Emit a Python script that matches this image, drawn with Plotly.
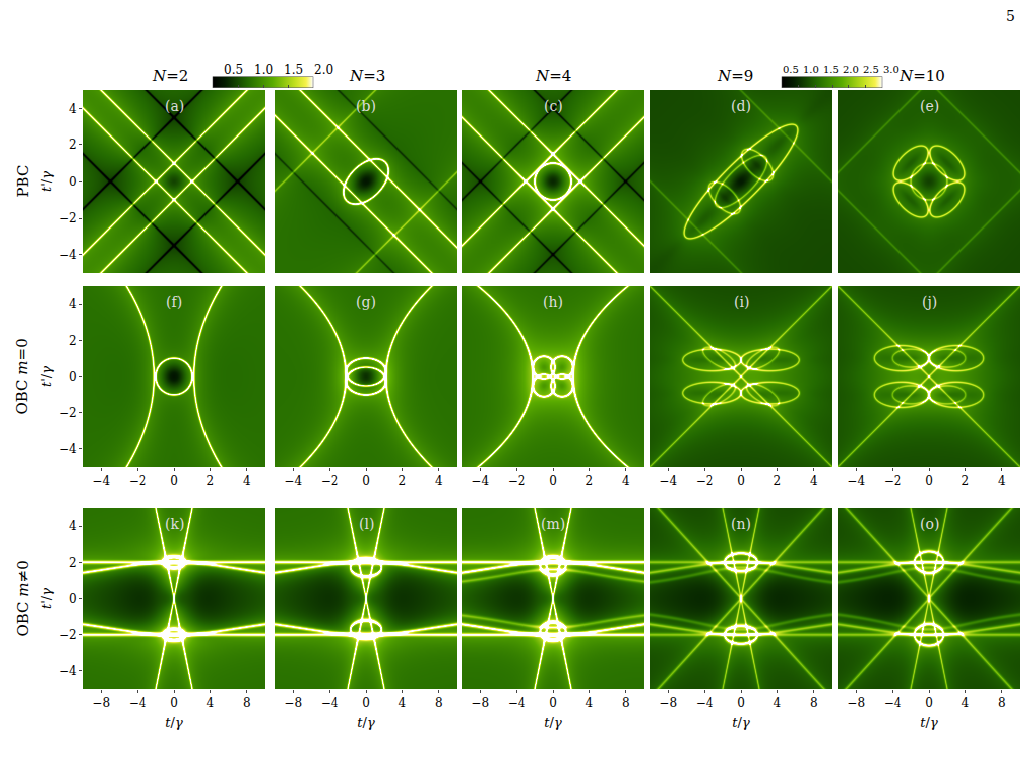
import numpy as np
import plotly.graph_objects as go

# column titles, row labels, panel letters
n_labels = ['2', '3', '4', '9', '10']
row_labels = ['PBC', 'OBC <i>m</i>=0', 'OBC <i>m</i>≠0']
panel_letters = list('abcdefghijklmno')
ticks_y = [-4, -2, 0, 2, 4]
ticks_x_row2 = [-4, -2, 0, 2, 4]
ticks_x_row3 = [-8, -4, 0, 4, 8]
cbar_ticks_left = [0.5, 1.0, 1.5, 2.0]
cbar_ticks_right = [0.5, 1.0, 1.5, 2.0, 2.5, 3.0]

# bright curves per panel: (kind, weight, params...)
curves_a = [('line', 1.0, 1, 1, 1), ('line', 1.0, 1, 1, -1), ('line', 1.0, 1, -1, 1), ('line', 1.0, 1, -1, -1),
            ('line', -0.5, 1, 1, 3.5), ('line', -0.5, 1, 1, -3.5), ('line', -0.5, 1, -1, 3.5), ('line', -0.5, 1, -1, -3.5)]
curves_b = [('line', 1.0, 1, 1, 1.4), ('line', 1.0, 1, 1, -1.4), ('line', 0.5, 1, -1, 4.5), ('line', 0.5, 1, -1, -4.5),
            ('line', -0.3, 1, 1, 3.5), ('line', -0.3, 1, 1, -3.5), ('ell', 1.2, 0, 0, 1.5, 0.9, 45)]
curves_c = [('line', 1.0, 1, 1, 1.5), ('line', 1.0, 1, 1, -1.5), ('line', 1.0, 1, -1, 1.5), ('line', 1.0, 1, -1, -1.5),
            ('line', -0.4, 1, 1, 4), ('line', -0.4, 1, 1, -4), ('line', -0.4, 1, -1, 4), ('line', -0.4, 1, -1, -4),
            ('ell', 1.2, 0, 0, 1.0, 1.0, 0)]
curves_d = [('ell', 1.3, 0, 0, 4.3, 1.0, 45), ('ell', 1.0, 0.9, 0.9, 1.1, 0.55, -45), ('ell', 1.0, -0.9, -0.9, 1.1, 0.55, -45),
            ('ell', 0.9, 0, 0, 1.9, 0.7, 45), ('line', 0.4, 1, 1, 5), ('line', 0.4, 1, 1, -5)]
curves_e = [('ell', 1.2, 1.0, 1.0, 1.2, 0.6, -45), ('ell', 1.2, -1.0, -1.0, 1.2, 0.6, -45),
            ('ell', 1.2, 1.0, -1.0, 1.2, 0.6, 45), ('ell', 1.2, -1.0, 1.0, 1.2, 0.6, 45),
            ('ell', 0.8, 0, 0, 1.0, 1.0, 0), ('line', 0.4, 1, 1, 5.5), ('line', 0.4, 1, -1, 5.5),
            ('line', 0.4, 1, 1, -5.5), ('line', 0.4, 1, -1, -5.5)]
curves_f = [('para', 1.0, 1, 1.1, 0.06), ('para', 1.0, -1, 1.1, 0.06), ('ell', 1.2, 0, 0, 1.0, 1.0, 0)]
curves_g = [('para', 1.0, 1, 1.1, 0.1), ('para', 1.0, -1, 1.1, 0.1), ('ell', 1.2, 0, 0.25, 1.1, 0.75, 0),
            ('ell', 1.2, 0, -0.25, 1.1, 0.75, 0)]
curves_h = [('para', 1.0, 1, 1.1, 0.12), ('para', 1.0, -1, 1.1, 0.12), ('ell', 1.1, 0.5, 0.5, 0.6, 0.6, 0),
            ('ell', 1.1, -0.5, 0.5, 0.6, 0.6, 0), ('ell', 1.1, 0.5, -0.5, 0.6, 0.6, 0), ('ell', 1.1, -0.5, -0.5, 0.6, 0.6, 0)]
curves_i = [('line', 0.9, 1, 1, 0), ('line', 0.9, 1, -1, 0), ('ell', 1.0, 1.6, 0.9, 1.6, 0.6, 0), ('ell', 1.0, -1.6, 0.9, 1.6, 0.6, 0),
            ('ell', 1.0, 1.6, -0.9, 1.6, 0.6, 0), ('ell', 1.0, -1.6, -0.9, 1.6, 0.6, 0), ('ell', 0.7, 1.2, 1.0, 1.0, 0.4, 30),
            ('ell', 0.7, -1.2, 1.0, 1.0, 0.4, -30), ('ell', 0.7, 1.2, -1.0, 1.0, 0.4, -30), ('ell', 0.7, -1.2, -1.0, 1.0, 0.4, 30)]
curves_j = [('line', 0.9, 1, 1, 0), ('line', 0.9, 1, -1, 0), ('ell', 1.0, 1.5, 1.0, 1.5, 0.7, 0), ('ell', 1.0, -1.5, 1.0, 1.5, 0.7, 0),
            ('ell', 1.0, 1.5, -1.0, 1.5, 0.7, 0), ('ell', 1.0, -1.5, -1.0, 1.5, 0.7, 0), ('ell', 0.7, 1.0, 1.0, 1.0, 0.5, 0),
            ('ell', 0.7, -1.0, 1.0, 1.0, 0.5, 0), ('ell', 0.7, 1.0, -1.0, 1.0, 0.5, 0), ('ell', 0.7, -1.0, -1.0, 1.0, 0.5, 0)]
row3_base = [('hl', 0.9, 2.0), ('hl', 0.9, -2.0), ('hour', 1.0, 2.0, 10.0), ('hour', 1.0, -2.0, 10.0),
             ('line', 1.0, 2.5, 1, 0), ('line', 1.0, 2.5, -1, 0)]
curves_k = row3_base + [('ell', 1.2, 0, 2.0, 1.2, 0.3, 0), ('ell', 1.2, 0, -2.0, 1.2, 0.3, 0)]
curves_l = row3_base + [('ell', 1.2, 0, 1.7, 1.7, 0.5, 0), ('ell', 1.2, 0, -1.7, 1.7, 0.5, 0)]
curves_m = row3_base + [('ell', 1.2, 0, 1.8, 1.4, 0.5, 0), ('ell', 1.2, 0, -1.8, 1.4, 0.5, 0),
                        ('hour', 0.5, 1.6, 7.0), ('hour', 0.5, -1.6, 7.0)]
curves_n = row3_base + [('line', 0.9, 0.55, 1, 0), ('line', 0.9, 0.55, -1, 0), ('ell', 1.6, 0, 2.0, 1.8, 0.5, 0),
                        ('ell', 1.6, 0, -2.0, 1.8, 0.5, 0), ('hour', 0.5, 1.7, 6.0), ('hour', 0.5, -1.7, 6.0)]
curves_o = row3_base + [('line', 0.9, 0.55, 1, 0), ('line', 0.9, 0.55, -1, 0), ('ell', 1.6, 0, 2.0, 1.6, 0.6, 0),
                        ('ell', 1.6, 0, -2.0, 1.6, 0.6, 0), ('hour', 0.5, 1.7, 6.0), ('hour', 0.5, -1.7, 6.0)]
panel_curves = [curves_a, curves_b, curves_c, curves_d, curves_e, curves_f, curves_g, curves_h,
                curves_i, curves_j, curves_k, curves_l, curves_m, curves_n, curves_o]

cscale = [[0, '#000000'], [0.12, '#031c00'], [0.35, '#236a00'], [0.6, '#5aab00'],
          [0.82, '#c2e020'], [0.93, '#f6f24a'], [1, '#ffffff']]

# pixel layout (page has an 8px body margin, so subtract it)
OFF = 8
col_px = [(83, 265), (275, 457), (462, 644), (650, 832), (838, 1020)]
row_px = [(90, 273), (286, 467), (508, 689)]
W, H = 1028, 768
FONT = 'DejaVu Serif'


def px_x(p):
    return (p - OFF) / W


def px_y(p):
    return 1 - (p - OFF) / H


def implicit(c, X, Y):
    kind = c[0]
    if kind == 'line':
        _, _, a, b, k = c
        return a * X + b * Y - k
    if kind == 'ell':
        _, _, cx, cy, a, b, ang = c
        t = np.radians(ang)
        u = (X - cx) * np.cos(t) + (Y - cy) * np.sin(t)
        v = -(X - cx) * np.sin(t) + (Y - cy) * np.cos(t)
        return (u / a) ** 2 + (v / b) ** 2 - 1
    if kind == 'para':
        _, _, s, c0, k = c
        return X - s * (c0 + k * Y ** 2)
    if kind == 'hl':
        return Y - c[2]
    if kind == 'hour':
        _, _, y0, sc = c
        return Y - y0 / np.sqrt(1 + (X / sc) ** 2)


def field(curves, xr, yr, width, hourglass=False):
    x = np.linspace(-xr, xr, 180)
    y = np.linspace(-yr, yr, 180)
    X, Y = np.meshgrid(x, y)
    r = np.sqrt((X / xr * 5) ** 2 + Y ** 2)
    Z = 0.3 + 0.45 * np.tanh(r / 3) - 0.25 * np.exp(-(r / 0.6) ** 2)
    if hourglass:
        # dark lobes left and right, inside the hourglass curves
        edge = 2.0 / np.sqrt(1 + (X / 10) ** 2)
        inside = 1 / (1 + np.exp((np.abs(Y) - edge) / 0.25))
        Z = Z - 0.55 * inside * (1 - np.exp(-(X / 2.5) ** 2)) * (1 - 0.5 * np.abs(X) / xr)
    for c in curves:
        F = implicit(c, X, Y)
        gy, gx = np.gradient(F, y, x)
        d = F / (np.sqrt(gx ** 2 + gy ** 2) + 1e-9)
        w = c[1]
        Z = Z + w * (1.1 * np.exp(-(d / width) ** 2) + 0.3 * np.exp(-np.abs(d) / 0.7))
    return x, y, np.clip(Z, 0.02, None)


fig = go.Figure()
for i in range(15):
    r, col = divmod(i, 5)
    n = i + 1
    xr = 10 if r == 2 else 5
    x, y, Z = field(panel_curves[i], xr, 5, 0.1 if r == 2 else 0.06, hourglass=(r == 2))
    zmax = 2.0 if col < 3 else 3.0
    show_cb = (i == 0 or i == 3)
    cb = None
    if show_cb:
        cb = dict(orientation='h', x=px_x(203 if i == 0 else 772), xanchor='left', y=px_y(84), yanchor='middle',
                  len=120 / W, lenmode='fraction', thickness=11, outlinewidth=0.5,
                  tickvals=cbar_ticks_left if i == 0 else cbar_ticks_right,
                  showticklabels=False, ticks='inside', ticklen=3)
    fig.add_trace(go.Heatmap(x=x, y=y, z=Z, zmin=0, zmax=zmax, colorscale=cscale,
                             showscale=show_cb, colorbar=cb, xaxis=f'x{n}', yaxis=f'y{n}',
                             hoverinfo='skip'))
    xd = [px_x(col_px[col][0]), px_x(col_px[col][1])]
    yd = [px_y(row_px[r][1]), px_y(row_px[r][0])]
    show_x = r > 0
    xticks = ticks_x_row3 if r == 2 else ticks_x_row2
    fig.layout[f'xaxis{n}'] = dict(domain=xd, anchor=f'y{n}', range=[-xr, xr], tickvals=xticks if show_x else [],
                                   ticks='outside' if show_x else '', ticklen=3, showline=False, zeroline=False,
                                   showgrid=False, tickfont=dict(family=FONT, size=12, color='black'),
                                   title=dict(text='<i>t</i>/<i>γ</i>', font=dict(family=FONT, size=13, color='black'),
                                              standoff=8) if r == 2 else None)
    fig.layout[f'yaxis{n}'] = dict(domain=yd, anchor=f'x{n}', range=[-5, 5], tickvals=ticks_y if col == 0 else [],
                                   ticks='outside' if col == 0 else '', ticklen=3, zeroline=False, showgrid=False,
                                   tickfont=dict(family=FONT, size=12, color='black'),
                                   title=dict(text="<i>t</i>'/<i>γ</i>", font=dict(family=FONT, size=13, color='black'),
                                              standoff=4) if col == 0 else None)
    fig.add_annotation(text=f'({panel_letters[i]})', xref='paper', yref='paper',
                       x=px_x(sum(col_px[col]) / 2), y=px_y(row_px[r][0] + 16), showarrow=False,
                       xanchor='center', yanchor='middle',
                       font=dict(family=FONT, size=14, color='#dddddd'))

# colorbar tick labels drawn above the bars
for v in cbar_ticks_left:
    fig.add_annotation(text=f'{v:.1f}', xref='paper', yref='paper', x=px_x(203 + 120 * v / 2.0), y=px_y(70),
                       xanchor='center', yanchor='middle', showarrow=False,
                       font=dict(family=FONT, size=12, color='black'))
for v in cbar_ticks_right:
    fig.add_annotation(text=f'{v:.1f}', xref='paper', yref='paper', x=px_x(772 + 120 * v / 3.0) - 0.001, y=px_y(70),
                       xanchor='center', yanchor='middle', showarrow=False,
                       font=dict(family=FONT, size=10, color='black'))

for col, lab in enumerate(n_labels):
    xs = [170, 367, 553, 735, 922][col]
    fig.add_annotation(text=f'<i>N</i>={lab}', xref='paper', yref='paper', x=px_x(xs), y=px_y(76),
                       xanchor='center', yanchor='middle', showarrow=False,
                       font=dict(family=FONT, size=15, color='black'))
for r, lab in enumerate(row_labels):
    fig.add_annotation(text=lab, xref='paper', yref='paper', x=px_x(22), y=px_y(sum(row_px[r]) / 2),
                       xanchor='center', yanchor='middle', textangle=-90, showarrow=False,
                       font=dict(family=FONT, size=15, color='black'))
fig.add_annotation(text='5', xref='paper', yref='paper', x=px_x(1010), y=px_y(16), showarrow=False,
                   xanchor='center', yanchor='middle', font=dict(family=FONT, size=14, color='black'))

fig.update_layout(width=W, height=H, margin=dict(l=0, r=0, t=0, b=0), plot_bgcolor='white',
                  paper_bgcolor='white', showlegend=False)
fig.write_html('out.html')
